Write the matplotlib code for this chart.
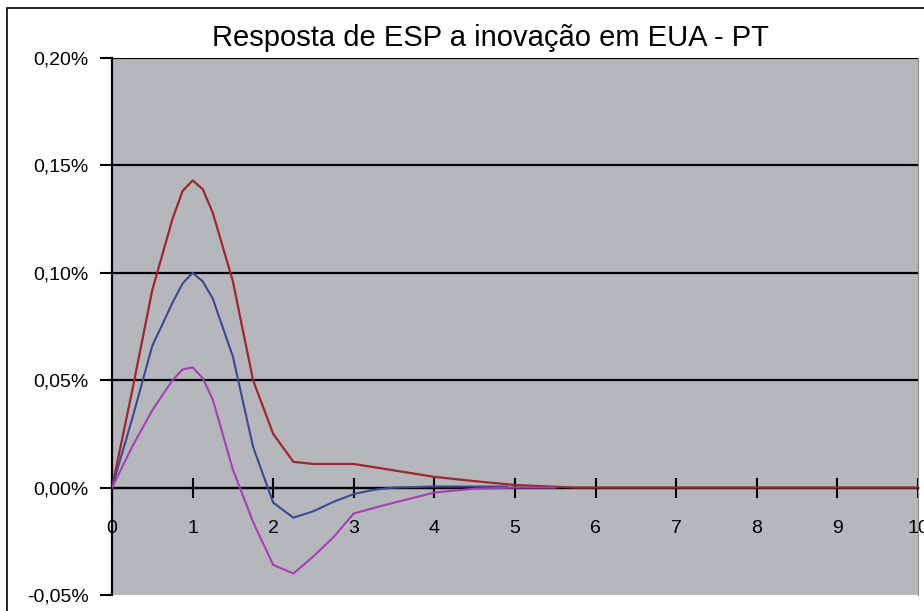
import matplotlib as mpl
mpl.use('Agg')
import matplotlib.pyplot as plt
from matplotlib.patches import Rectangle

plt.rcParams['font.family'] = ['Liberation Sans', 'DejaVu Sans']

# values in %
x_red = [0, 0.25, 0.5, 0.75, 0.875, 1.0, 1.125, 1.25, 1.5, 1.75, 2.0, 2.25, 2.5, 3.0, 3.5, 4.0, 4.5, 5.0, 5.75, 10]
red = [0, 0.045, 0.092, 0.125, 0.138, 0.143, 0.139, 0.128, 0.096, 0.050, 0.025, 0.012, 0.011, 0.011, 0.008, 0.005, 0.003, 0.0012, 0, 0]

x_blue = [0, 0.25, 0.5, 0.75, 0.875, 1.0, 1.125, 1.25, 1.5, 1.75, 2.0, 2.25, 2.5, 2.75, 3.0, 3.25, 3.5, 4.0, 4.9]
blue = [0, 0.032, 0.066, 0.086, 0.095, 0.100, 0.096, 0.088, 0.061, 0.019, -0.007, -0.014, -0.011, -0.0066, -0.003, -0.001, 0.0, 0.0005, 0.0005]

x_purple = [0, 0.25, 0.5, 0.75, 0.875, 1.0, 1.125, 1.25, 1.5, 1.75, 2.0, 2.25, 2.5, 2.75, 3.0, 3.5, 4.0, 4.5, 5.0, 5.5]
purple = [0, 0.019, 0.036, 0.050, 0.055, 0.056, 0.051, 0.041, 0.0084, -0.016, -0.036, -0.040, -0.032, -0.023, -0.012, -0.007, -0.0023, -0.0005, 0, 0]

yticks = [-0.05, 0.0, 0.05, 0.10, 0.15, 0.20]
xticks = list(range(0, 11))
title = 'Resposta de ESP a inovação em EUA - PT'

fig = plt.figure(figsize=(9.24, 6.11), dpi=100)
fig.patch.set_facecolor('white')
fig.patches.append(Rectangle((7/924, -0.05), 1.1, 1 - 8/611 + 0.05, transform=fig.transFigure,
                             fill=False, edgecolor='black', linewidth=1.2))

ax = fig.add_axes([112/924, 1 - 595/611, (918 - 112)/924, (595 - 58)/611])
ax.set_facecolor('#b5b8bb')

for yv in yticks[1:]:
    ax.axhline(yv, color='black', linewidth=1.6, zorder=1)

ax.plot(x_red, red, color='#a3242c', linewidth=1.6, zorder=3)
ax.plot(x_blue, blue, color='#3b4894', linewidth=1.5, zorder=3)
ax.plot(x_purple, purple, color='#a83cba', linewidth=1.5, zorder=3)

ax.set_xlim(0, 10)
ax.set_ylim(-0.05, 0.20)

ax.spines['bottom'].set_position(('data', 0))
ax.spines['bottom'].set_linewidth(1.6)
ax.spines['left'].set_linewidth(1.6)
ax.spines['top'].set_visible(False)
ax.spines['right'].set_color('#8a8d90')

ax.set_yticks(yticks)
ax.set_yticklabels([('%.2f%%' % v).replace('.', ',') for v in yticks], fontsize=14)
ax.tick_params(axis='y', direction='out', length=9, width=1.5, pad=8, colors='black')

ax.set_xticks(xticks)
ax.set_xticklabels([str(v) for v in xticks], fontsize=14)
ax.tick_params(axis='x', direction='inout', length=14, width=1.5, pad=16)
for lbl in ax.get_xticklabels():
    lbl.set_clip_on(False)

fig.text(490/924, 1 - 38/611, title, ha='center', va='center', fontsize=21)

fig.savefig('out.png', dpi=100)
